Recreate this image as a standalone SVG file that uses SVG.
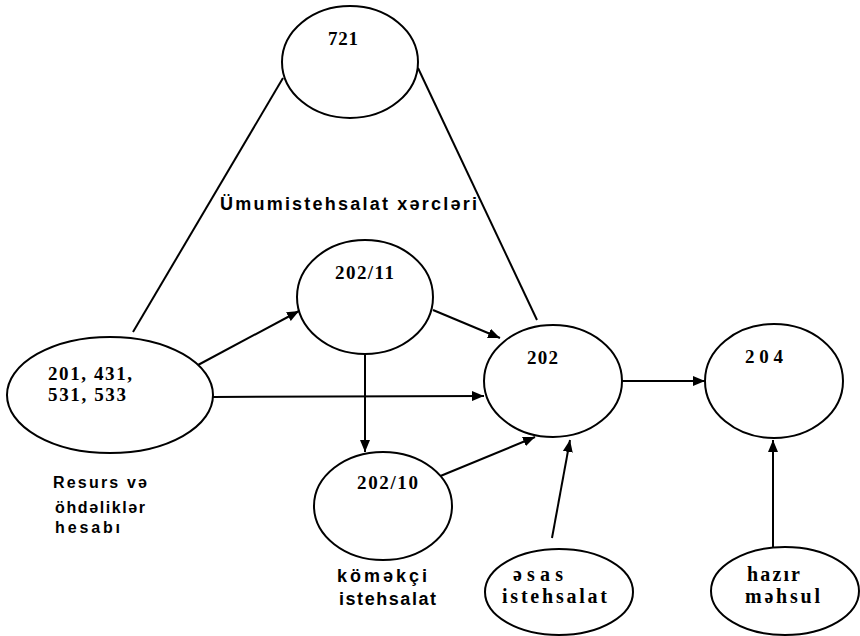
<svg xmlns="http://www.w3.org/2000/svg" width="860" height="636" viewBox="0 0 860 636">
  <defs>
    <marker id="arrow" viewBox="0 0 12 10" refX="12" refY="5" markerWidth="12" markerHeight="10" markerUnits="userSpaceOnUse" orient="auto">
      <path d="M0,0 L12,5 L0,10 Z" fill="#000"/>
    </marker>
  </defs>
  <style>
    .node { fill: #fff; stroke: #000; stroke-width: 2; }
    .edge { fill: none; stroke: #000; stroke-width: 2; }
    .arr { marker-end: url(#arrow); }
    .num { font-family: "Liberation Serif", "Times New Roman", serif; font-size: 19px; font-weight: bold; fill: #000; }
    .lbl { font-family: "Liberation Sans", Arial, sans-serif; font-size: 18px; font-weight: bold; fill: #000; }
    .lbls { font-family: "Liberation Serif", "Times New Roman", serif; font-size: 20px; font-weight: bold; fill: #000; }
    .small { font-family: "Liberation Sans", Arial, sans-serif; font-size: 16px; font-weight: bold; fill: #000; }
  </style>
  <rect width="860" height="636" fill="#fff"/>

  <!-- connectors -->
  <g id="connectors">
    <line class="edge" x1="133" y1="332" x2="283" y2="78"/>
    <line class="edge" x1="418" y1="68" x2="537" y2="320"/>
    <line class="edge arr" x1="198" y1="365" x2="299" y2="311"/>
    <line class="edge arr" x1="213" y1="397" x2="484" y2="396"/>
    <line class="edge arr" x1="433" y1="310" x2="500" y2="338"/>
    <line class="edge arr" x1="365" y1="353" x2="365" y2="452"/>
    <line class="edge arr" x1="438" y1="477" x2="535" y2="437"/>
    <line class="edge arr" x1="622" y1="381" x2="705" y2="381"/>
    <line class="edge arr" x1="552" y1="538" x2="570" y2="440"/>
    <line class="edge arr" x1="773" y1="550" x2="773" y2="440"/>
  </g>

  <g id="n721">
    <ellipse class="node" cx="350" cy="62" rx="68" ry="56"/>
    <text class="num" x="328" y="45" textLength="30" lengthAdjust="spacing">721</text>
  </g>

  <text id="umumistehsalat" class="lbl" x="220" y="210" font-size="20" textLength="257" lengthAdjust="spacing">Ümumistehsalat xərcləri</text>

  <g id="n202_11">
    <ellipse class="node" cx="365" cy="297" rx="68" ry="57"/>
    <text class="num" x="335" y="279" textLength="59" lengthAdjust="spacing">202/11</text>
  </g>

  <g id="n201">
    <ellipse class="node" cx="110" cy="395" rx="103" ry="58"/>
    <text class="num" x="48" y="380" textLength="84" lengthAdjust="spacing">201, 431,</text>
    <text class="num" x="48" y="401" textLength="78" lengthAdjust="spacing">531, 533</text>
  </g>

  <g id="resurs">
    <text class="small" x="53" y="488" textLength="94" lengthAdjust="spacing">Resurs və</text>
    <text class="small" x="55" y="513" textLength="90" lengthAdjust="spacing">öhdəliklər</text>
    <text class="small" x="55" y="533" textLength="65" lengthAdjust="spacing">hesabı</text>
  </g>

  <g id="n202">
    <ellipse class="node" cx="553" cy="381" rx="69" ry="56"/>
    <text class="num" x="527" y="364" textLength="31" lengthAdjust="spacing">202</text>
  </g>

  <g id="n204">
    <ellipse class="node" cx="774" cy="381" rx="69" ry="57"/>
    <text class="num" x="745" y="363" font-size="20" textLength="38" lengthAdjust="spacing">204</text>
  </g>

  <g id="n202_10">
    <ellipse class="node" cx="383" cy="506" rx="69" ry="54"/>
    <text class="num" x="357" y="489" textLength="61" lengthAdjust="spacing">202/10</text>
  </g>

  <g id="komekci">
    <text class="lbl" x="337" y="582" textLength="90" lengthAdjust="spacing">kömәkçi</text>
    <text class="lbl" x="339" y="605" textLength="97" lengthAdjust="spacing">istehsalat</text>
  </g>

  <g id="esas">
    <ellipse class="node" cx="559" cy="592" rx="74" ry="43"/>
    <text class="lbls" x="513" y="581" textLength="50" lengthAdjust="spacing">əsas</text>
    <text class="lbls" x="502" y="603" textLength="105" lengthAdjust="spacing">istehsalat</text>
  </g>

  <g id="hazir">
    <ellipse class="node" cx="785" cy="591" rx="74" ry="44"/>
    <text class="lbls" x="747" y="581" textLength="53" lengthAdjust="spacing">hazır</text>
    <text class="lbls" x="745" y="603" textLength="75" lengthAdjust="spacing">məhsul</text>
  </g>
</svg>
